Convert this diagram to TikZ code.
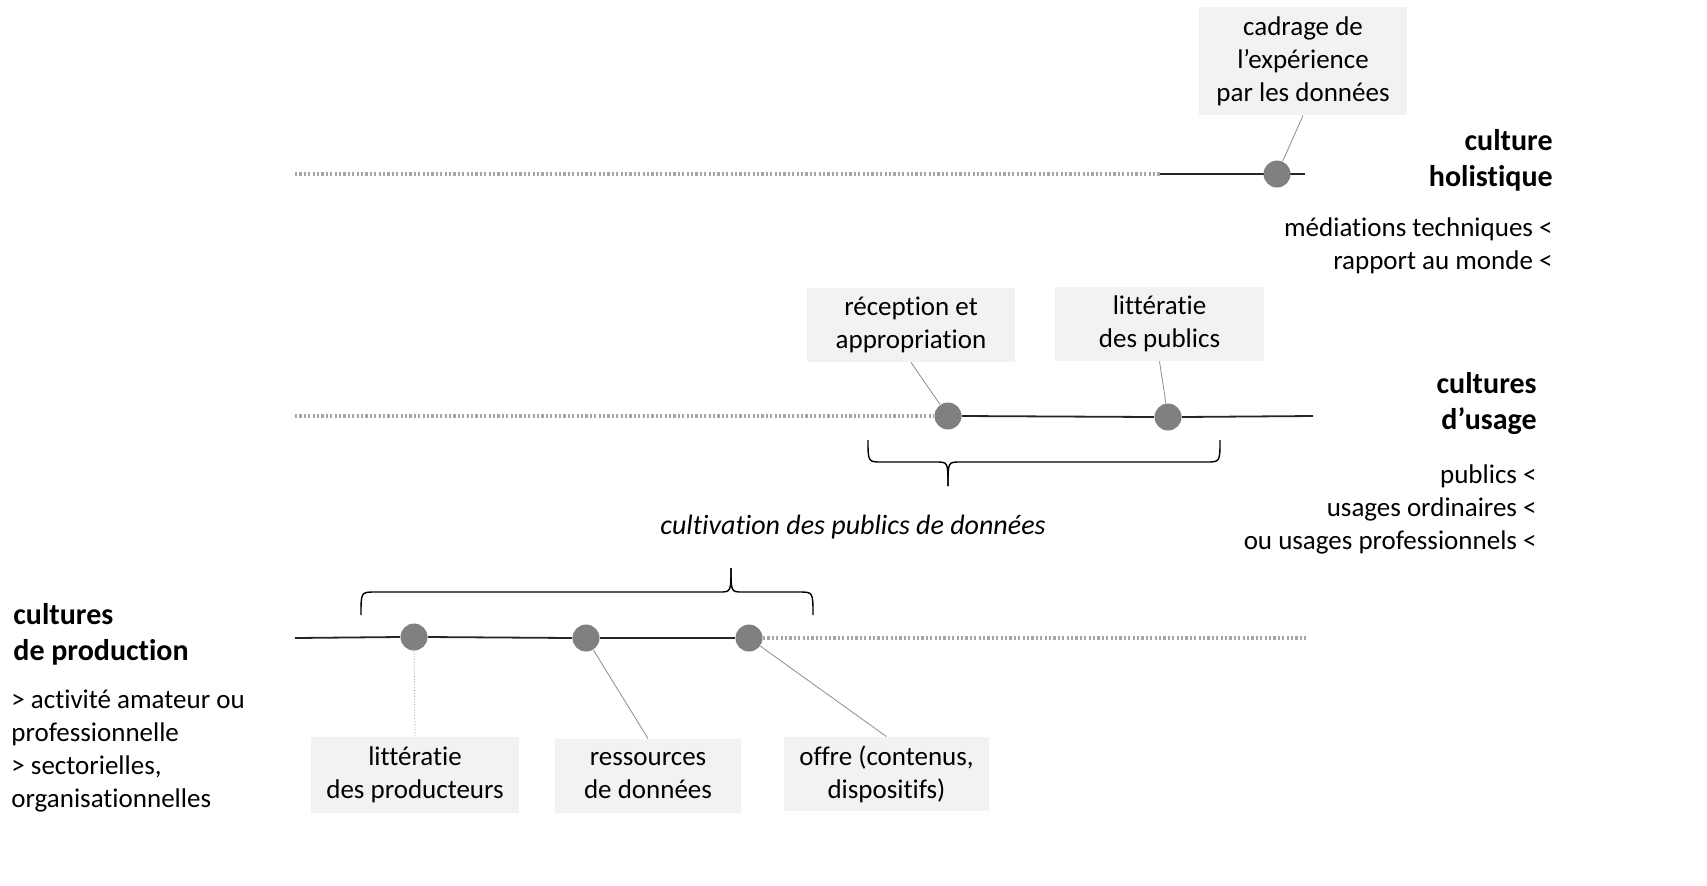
\documentclass[tikz,border=0pt]{standalone}
\usepackage{fontspec}
\setmainfont{Carlito}[Ligatures=NoCommon]
\usetikzlibrary{calc}
\definecolor{boxgray}{HTML}{F2F2F2}
\definecolor{dotgray}{HTML}{808080}
\definecolor{dotline}{HTML}{A6A6A6}
\definecolor{linkgray}{HTML}{8C8C8C}
\tikzset{
  x=0.5pt, y=-0.5pt,
  txt/.style={inner sep=0pt, font=\fontsize{13.5}{16.5}\selectfont},
  lbox/.style={fill=boxgray, inner sep=0pt, align=center, font=\fontsize{13.5}{16.5}\selectfont},
  head/.style={inner sep=0pt, font=\fontsize{15}{18}\selectfont\bfseries},
  pt/.style={circle, fill=dotgray, minimum size=13.5pt, inner sep=0pt},
  solidline/.style={draw=black!85, line width=0.9pt},
  dotsline/.style={draw=dotline, line width=1.6pt, dash pattern=on 1.1pt off 1.1pt},
  link/.style={draw=linkgray, line width=0.4pt},
  bracestyle/.style={draw=black, line width=0.7pt},
}
\begin{document}
\begin{tikzpicture}
\useasboundingbox (0,0) rectangle (1707,885);

% ---------- top: culture holistique ----------
\coordinate (t0) at (295,174);
\coordinate (t1) at (1160,174);
\coordinate (t2) at (1305,174);
\draw[dotsline] (t0) -- (t1);
\draw[solidline] (t1) -- (t2);
\node[pt] (d1) at (1277,174) {};
\node[lbox, minimum width=104pt, minimum height=54pt] (b1) at (1303,61)
  {cadrage de\\l’expérience\\par les données};
\draw[link] (b1.south) -- (d1);
\node[head, anchor=east, align=right] (h1) at (1553,160) {culture\\holistique};
\node[txt, anchor=east, align=right] (s1) at (1553,246) {médiations techniques <\\rapport au monde <};

% ---------- middle: cultures d'usage ----------
\coordinate (m0) at (295,416);
\coordinate (m3) at (1313,416);
\node[pt] (d2) at (948,416) {};
\node[pt] (d3) at (1168,417) {};
\draw[dotsline] (m0) -- (d2.west);
\draw[solidline] (d2.east) -- (d3.west);
\draw[solidline] (d3.east) -- (m3);
\node[lbox, minimum width=104pt, minimum height=37pt] (b2) at (911,325)
  {réception et\\appropriation};
\node[lbox, minimum width=104.5pt, minimum height=37pt] (b3) at (1159.5,324)
  {littératie\\des publics};
\draw[link] (b2.south) -- (d2);
\draw[link] (b3.south) -- (d3);
\node[head, anchor=east, align=right] (h2) at (1537,404) {cultures\\d’usage};
\node[txt, anchor=east, align=right] (s2) at (1537,509)
  {publics <\\usages ordinaires <\\ou usages professionnels <};

% brace under middle line
\coordinate (bm1) at (868,440);
\coordinate (bm2) at (1220,440);
\coordinate (bmt) at (948,486);
\draw[bracestyle] (bm1) .. controls (868,462) and (868,462) .. (882,462)
  -- (936,462) .. controls (948,462) and (948,462) .. (bmt);
\draw[bracestyle] (bm2) .. controls (1220,462) and (1220,462) .. (1206,462)
  -- (960,462) .. controls (948,462) and (948,462) .. (bmt);

\node[txt, font=\fontsize{14}{17}\selectfont\itshape] (cult) at (853,527)
  {cultivation des publics de données};

% ---------- bottom: cultures de production ----------
\coordinate (bb1) at (361,615);
\coordinate (bb2) at (813,615);
\coordinate (bbt) at (731,568);
\draw[bracestyle] (bb1) .. controls (361,592) and (361,592) .. (375,592)
  -- (719,592) .. controls (731,592) and (731,592) .. (bbt);
\draw[bracestyle] (bb2) .. controls (813,592) and (813,592) .. (799,592)
  -- (743,592) .. controls (731,592) and (731,592) .. (bbt);

\coordinate (p0) at (295,638);
\coordinate (p4) at (1308,638);
\node[pt] (d4) at (414,637) {};
\node[pt] (d5) at (586,638) {};
\node[pt] (d6) at (749,638) {};
\draw[solidline] (p0) -- (d4.west);
\draw[solidline] (d4.east) -- (d5.west);
\draw[solidline] (d5.east) -- (d6.west);
\draw[dotsline] (d6.east) -- (p4);

\node[lbox, minimum width=104pt, minimum height=38pt] (b4) at (415,775)
  {littératie\\des producteurs};
\node[lbox, minimum width=93pt, minimum height=37pt] (b5) at (648,776)
  {ressources\\de données};
\node[lbox, minimum width=102.5pt, minimum height=37pt] (b6) at (886.5,774)
  {offre (contenus,\\dispositifs)};
\draw[link, densely dotted] (d4) -- (b4.north);
\draw[link] (d5) -- (b5.north);
\draw[link] (d6) -- (b6.north);

\node[head, anchor=west, align=left] (h3) at (13,634) {cultures\\de production};
\node[txt, anchor=west, align=left] (s3) at (11,751)
  {> activité amateur ou\\professionnelle\\> sectorielles,\\organisationnelles};
\end{tikzpicture}
\end{document}
